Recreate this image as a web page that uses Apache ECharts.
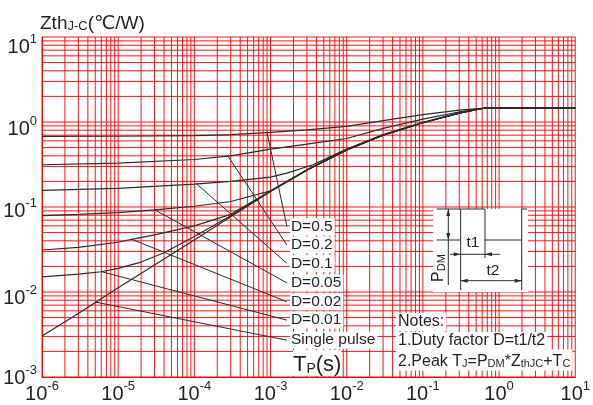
<!DOCTYPE html>
<html><head><meta charset="utf-8">
<script src="https://cdn.jsdelivr.net/npm/echarts@6.0.0/dist/echarts.min.js"></script>
<style>html,body{margin:0;padding:0;background:#fff}#c{width:593px;height:405px}</style>
</head><body><div id="c"></div>
<script>
// ---- data (time in s, Zth in °C/W) ----
const curveNames = ['D=0.5','D=0.2','D=0.1','D=0.05','D=0.02','D=0.01','Single pulse'];
const d05 = [[1e-6,0.676],[1e-5,0.68],[1e-4,0.69],[3e-4,0.71],[1e-3,0.757],[3e-3,0.81],[1e-2,0.89],[3e-2,1.04],[0.1,1.22],[0.3,1.38],[0.65,1.46],[10,1.46]];
const d02 = [[1e-6,0.314],[1e-5,0.328],[1e-4,0.362],[3e-4,0.40],[1e-3,0.48],[3e-3,0.55],[1e-2,0.64],[3e-2,0.84],[0.1,1.08],[0.32,1.33],[0.65,1.46],[10,1.46]];
const d01 = [[1e-6,0.157],[1e-5,0.166],[1e-4,0.186],[3e-4,0.20],[1e-3,0.225],[1.64e-3,0.25],[3.6e-3,0.314],[1e-2,0.48],[3e-2,0.71],[0.1,0.99],[0.3,1.28],[0.65,1.46],[10,1.46]];
const d005 = [[1e-6,0.079],[3e-6,0.082],[1e-5,0.086],[3e-5,0.0925],[1e-4,0.102],[3e-4,0.116],[1e-3,0.155],[3e-3,0.275],[1e-2,0.47],[3e-2,0.70],[0.1,0.98],[0.3,1.27],[0.65,1.46],[10,1.46]];
const d002 = [[1e-6,0.0312],[3e-6,0.0335],[1e-5,0.0385],[1.5e-5,0.0417],[3e-5,0.047],[1e-4,0.060],[3e-4,0.082],[1e-3,0.154],[3e-3,0.272],[1e-2,0.47],[3e-2,0.70],[0.1,0.98],[0.3,1.27],[0.65,1.46],[10,1.46]];
const d001 = [[1e-6,0.0151],[3e-6,0.0162],[6e-6,0.0173],[1e-5,0.019],[2e-5,0.0225],[4e-5,0.029],[1e-4,0.045],[3e-4,0.079],[1e-3,0.153],[3e-3,0.271],[1e-2,0.47],[3e-2,0.70],[0.1,0.98],[0.3,1.27],[0.65,1.46],[10,1.46]];
const single = [[1e-6,0.00304],[3e-6,0.0056],[1e-5,0.0112],[3e-5,0.0208],[1e-4,0.041],[3e-4,0.077],[1e-3,0.152],[3e-3,0.27],[1e-2,0.47],[3e-2,0.70],[0.1,0.98],[0.3,1.27],[0.65,1.46],[10,1.46]];
// leader lines: point on curve -> label anchor
const lead05 = [[9.0e-4,0.754],[1.64e-3,0.0587]];
const lead02 = [[2.72e-4,0.404],[1.64e-3,0.0357]];
const lead01 = [[1.05e-4,0.19],[1.64e-3,0.0217]];
const lead005 = [[3.04e-5,0.0925],[1.64e-3,0.0128]];
const lead002 = [[1.51e-5,0.0417],[1.64e-3,0.00766]];
const lead001 = [[6.1e-6,0.0173],[1.64e-3,0.00467]];
const leadSingle = [[5.06e-6,0.0076],[1.64e-3,0.00271]];
const xTickExps = [-6,-5,-4,-3,-2,-1,0,1];
const yTickExps = [-3,-2,-1,0,1];
const gridMultipliers = [1,2,3,4,5,6,7,8,9];
// vertical offset (px) of each y tick label's "10" below its tick, as in the reference
const yLabelShift = {'1': 10, '0': 7, '-1': 4, '-2': 6, '-3': 1};

const curves = [d05,d02,d01,d005,d002,d001,single];
const leaders = [lead05,lead02,lead01,lead005,lead002,lead001,leadSingle];

const FONT = '"Liberation Sans", Arial, "DejaVu Sans", sans-serif';
const TXT = '#231f20';
const LINE = '#2b2b2b';
const X0 = 1e-6, X1 = 10, Y0 = 1e-3, Y1 = 10;

function gridValues(exps) {
  const out = [];
  for (let i = 0; i < exps.length - 1; i++)
    for (const m of gridMultipliers) out.push(m * Math.pow(10, exps[i]));
  out.push(Math.pow(10, exps[exps.length - 1]));
  return out;
}

// tick label rich styles
const xRich = {
  b: {fontSize: 20, fontFamily: FONT, color: TXT, lineHeight: 28, verticalAlign: 'top', padding: [4, 0, 0, 0]},
  s: {fontSize: 13, fontFamily: FONT, color: TXT, lineHeight: 28, verticalAlign: 'top', padding: [0, 0, 0, 0]}
};
const yRich = {};
yTickExps.forEach((e, i) => {
  const pb = yLabelShift[String(e)] + 4;
  yRich['b' + i] = {fontSize: 20, fontFamily: FONT, color: TXT, lineHeight: 28, verticalAlign: 'top', padding: [pb, 0, 0, 0]};
  yRich['s' + i] = {fontSize: 13, fontFamily: FONT, color: TXT, lineHeight: 28, verticalAlign: 'top', padding: [Math.max(0, pb - 4), 0, 0, 0]};
});
function xFmt(v) { return '{b|10}{s|' + Math.round(Math.log10(v)) + '}'; }
function yFmt(v) {
  const e = Math.round(Math.log10(v));
  const i = yTickExps.indexOf(e);
  return '{b' + i + '|10}{s' + i + '|' + e + '}';
}

const series = [];
const gridStyle = {color: '#ff0000', width: 1, opacity: 0.92};
gridValues(xTickExps).forEach(v => series.push({
  type: 'line', data: [[v, Y0], [v, Y1]], symbol: 'none', showSymbol: false, silent: true, z: 1, clip: false,
  lineStyle: gridStyle
}));
gridValues(yTickExps).forEach(v => series.push({
  type: 'line', data: [[X0, v], [X1, v]], symbol: 'none', showSymbol: false, silent: true, z: 1, clip: false,
  lineStyle: gridStyle
}));
curves.forEach((c, i) => series.push({
  type: 'line', name: curveNames[i], data: c, symbol: 'none', showSymbol: false,
  lineStyle: {color: LINE, width: 1.2}, z: 3, silent: true
}));
leaders.forEach((c, i) => series.push({
  type: 'line', name: curveNames[i] + ' label', data: c, symbol: 'none', showSymbol: false,
  lineStyle: {color: LINE, width: 1}, z: 4, silent: true,
  endLabel: {show: true, formatter: curveNames[i], color: TXT, fontSize: 15.5, fontFamily: FONT,
    backgroundColor: '#fff', padding: [1, 2, 0, 1], distance: 3}
}));

const G = (o) => Object.assign({z: 50, silent: true}, o);
const stroke = {stroke: LINE, lineWidth: 1, fill: null};
const graphic = [
  G({type: 'text', x: 40, y: 22, style: {text: '{a|Zth}{b|J-C}{a|(℃/W)}', verticalAlign: 'middle',
     rich: {a: {fontSize: 19, fontFamily: FONT, fill: TXT, lineHeight: 22, verticalAlign: 'bottom'},
            b: {fontSize: 13, fontFamily: FONT, fill: TXT, lineHeight: 22, verticalAlign: 'bottom'}}}}),
  G({type: 'text', x: 293, y: 363, style: {text: '{a|T}{b|P}{a|(s)}', verticalAlign: 'middle',
     backgroundColor: '#fff',
     rich: {a: {fontSize: 22, fontFamily: FONT, fill: TXT, lineHeight: 26, verticalAlign: 'bottom'},
            b: {fontSize: 14, fontFamily: FONT, fill: TXT, lineHeight: 26, verticalAlign: 'bottom'}}}}),
  G({type: 'text', x: 396, y: 322, style: {text: 'Notes:', fontSize: 16, fontFamily: FONT, fill: TXT,
     verticalAlign: 'middle', backgroundColor: '#fff', padding: [1, 2]}}),
  G({type: 'text', x: 396, y: 341, style: {text: '1.Duty factor D=t1/t2', fontSize: 16, fontFamily: FONT, fill: TXT,
     verticalAlign: 'middle', backgroundColor: '#fff', padding: [1, 2]}}),
  G({type: 'text', x: 396, y: 360, style: {text: '{a|2.Peak T}{b|J}{a|=P}{b|DM}{a|*Z}{b|thJC}{a|+T}{b|C}',
     verticalAlign: 'middle', backgroundColor: '#fff', padding: [1, 2],
     rich: {a: {fontSize: 16, fontFamily: FONT, fill: TXT, lineHeight: 19, verticalAlign: 'bottom'},
            b: {fontSize: 11, fontFamily: FONT, fill: TXT, lineHeight: 19, verticalAlign: 'bottom'}}}}),
  // inset pulse diagram
  G({type: 'rect', shape: {x: 433, y: 209, width: 95, height: 83}, style: {fill: '#fff'}}),
  G({type: 'polyline', shape: {points: [[436.7,240],[460.7,240],[460.7,209],[485,209],[485,240],[521.7,240],[521.7,209],[527,209]]}, style: stroke}),
  G({type: 'polyline', shape: {points: [[436.7,209],[460.7,209]]}, style: stroke}),
  G({type: 'polyline', shape: {points: [[448.3,209],[448.3,285]]}, style: stroke}),
  G({type: 'polyline', shape: {points: [[460.7,240],[460.7,290]]}, style: stroke}),
  G({type: 'polyline', shape: {points: [[521.7,240],[521.7,290]]}, style: stroke}),
  G({type: 'polyline', shape: {points: [[485,240],[485,258]]}, style: stroke}),
  G({type: 'polyline', shape: {points: [[450,254.3],[500,254.3]]}, style: stroke}),
  G({type: 'polyline', shape: {points: [[460.7,280.7],[521.7,280.7]]}, style: stroke}),
  G({type: 'polygon', shape: {points: [[448.3,209],[446.3,216],[450.3,216]]}, style: {fill: LINE}}),
  G({type: 'polygon', shape: {points: [[448.3,240],[446.3,233],[450.3,233]]}, style: {fill: LINE}}),
  G({type: 'polygon', shape: {points: [[460.7,254.3],[453.7,252.3],[453.7,256.3]]}, style: {fill: LINE}}),
  G({type: 'polygon', shape: {points: [[485,254.3],[492,252.3],[492,256.3]]}, style: {fill: LINE}}),
  G({type: 'polygon', shape: {points: [[460.7,280.7],[467.7,278.7],[467.7,282.7]]}, style: {fill: LINE}}),
  G({type: 'polygon', shape: {points: [[521.7,280.7],[514.7,278.7],[514.7,282.7]]}, style: {fill: LINE}}),
  G({type: 'text', x: 473, y: 243, style: {text: 't1', fontSize: 15.5, fontFamily: FONT, fill: TXT, align: 'center', verticalAlign: 'middle'}}),
  G({type: 'text', x: 493, y: 271, style: {text: 't2', fontSize: 15.5, fontFamily: FONT, fill: TXT, align: 'center', verticalAlign: 'middle'}}),
  G({type: 'text', x: 438, y: 268, rotation: Math.PI / 2, style: {text: '{a|P}{b|DM}', align: 'center', verticalAlign: 'middle',
     rich: {a: {fontSize: 16, fontFamily: FONT, fill: TXT, lineHeight: 18, verticalAlign: 'bottom'},
            b: {fontSize: 11, fontFamily: FONT, fill: TXT, lineHeight: 18, verticalAlign: 'bottom'}}}})
];

const chart = echarts.init(document.getElementById('c'), null, {renderer: 'canvas'});
chart.setOption({
  animation: false,
  backgroundColor: '#fff',
  grid: {left: 42, right: 11, top: 37, bottom: 28, containLabel: false},
  xAxis: {type: 'log', logBase: 10, min: X0, max: X1, interval: 1,
    axisLine: {show: true, lineStyle: {color: '#ff0000', width: 1}}, axisTick: {show: false},
    splitLine: {show: false},
    axisLabel: {margin: 3, formatter: xFmt, rich: xRich, showMinLabel: true, showMaxLabel: true}},
  yAxis: {type: 'log', logBase: 10, min: Y0, max: Y1, interval: 1,
    axisLine: {show: true, lineStyle: {color: '#ff0000', width: 1}}, axisTick: {show: false},
    splitLine: {show: false},
    axisLabel: {margin: 5, formatter: yFmt, rich: yRich, showMinLabel: true, showMaxLabel: true}},
  series: series,
  graphic: graphic
});
</script></body></html>
